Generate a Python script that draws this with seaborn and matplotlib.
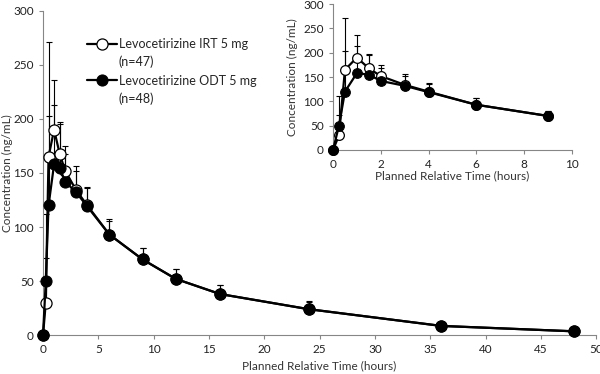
import numpy as np
import pandas as pd
import matplotlib
matplotlib.use("Agg")
import matplotlib.pyplot as plt
import seaborn as sns

sns.set_style("white")
plt.rcParams["font.family"] = ["Lato", "DejaVu Sans"]

# Tiempos y concentraciones medias (+ DE superior)
time_h = [0, 0.25, 0.5, 1, 1.5, 2, 3, 4, 6, 9, 12, 16, 24, 36, 48]
irt_mean = [0, 30, 165, 190, 168, 152, 134, 120, 93, 70, 52, 38, 24, 8.5, 3.5]
irt_sd = [0, 82, 106, 46, 29, 23, 22, 17, 14, 11, 9, 8, 8, 2, 1.5]
odt_mean = [0, 50, 120, 158, 155, 142, 132, 119, 93, 70, 52, 38, 24, 8.5, 3.5]
odt_sd = [0, 21, 83, 55, 40, 26, 20, 17, 13, 11, 9, 8, 7, 2, 1.5]

irt_label = "Levocetirizine IRT 5 mg"
odt_label = "Levocetirizine ODT 5 mg"
group_n = ["(n=47)", "(n=48)"]

df = pd.DataFrame({"time": time_h, "irt": irt_mean, "irt_sd": irt_sd,
                   "odt": odt_mean, "odt_sd": odt_sd})

grey = "#868686"


def draw(ax, data, ms, legend):
    # barras de error (solo hacia arriba)
    for col, sdcol in [("irt", "irt_sd"), ("odt", "odt_sd")]:
        ax.errorbar(data["time"], data[col], yerr=[np.zeros(len(data)), data[sdcol]],
                    fmt="none", ecolor="black", elinewidth=0.8, capsize=2.5,
                    capthick=0.8, zorder=2)
    sns.lineplot(data=data, x="time", y="irt", ax=ax, color="black", lw=1.6,
                 marker="o", markersize=ms, markerfacecolor="white",
                 markeredgecolor="black", markeredgewidth=0.9,
                 label=irt_label if legend else None, zorder=3, clip_on=False)
    sns.lineplot(data=data, x="time", y="odt", ax=ax, color="black", lw=1.6,
                 marker="o", markersize=ms, markerfacecolor="black",
                 markeredgecolor="black",
                 label=odt_label if legend else None, zorder=4, clip_on=False)
    ax.set_ylim(0, 300)
    ax.set_yticks(range(0, 301, 50))
    ax.set_ylabel("Concentration (ng/mL)", fontsize=8.5, color="#333333")
    ax.set_xlabel("Planned Relative Time (hours)", fontsize=8.5, color="#333333")
    for s in ["top", "right"]:
        ax.spines[s].set_visible(False)
    for s in ["left", "bottom"]:
        ax.spines[s].set_color(grey)
        ax.spines[s].set_linewidth(0.8)
    ax.tick_params(direction="out", length=3, width=0.8, color=grey,
                   labelsize=8.5, labelcolor="#222222", left=True, bottom=True)
    ax.set_facecolor("none")


fig = plt.figure(figsize=(6, 3.74), dpi=100)

ax = fig.add_axes([0.0717, 0.104, 0.922, 0.867])
draw(ax, df, 8, True)
ax.set_xlim(0, 50)
ax.set_xticks(range(0, 51, 5))
ax.yaxis.set_label_coords(-0.055, 0.5)
leg = ax.legend(loc="upper left", bbox_to_anchor=(0.06, 0.95), frameon=False,
                fontsize=9, handlelength=2.4, handletextpad=0.1,
                labelspacing=1.95)

# segunda línea de cada entrada de la leyenda: tamaño del grupo
fig.canvas.draw()
for t, n in zip(leg.get_texts(), group_n):
    bb = t.get_window_extent()
    fig.text(bb.x0 / fig.bbox.width, (bb.y0 - 16) / fig.bbox.height, n,
             fontsize=9, color="#222222")

ins = fig.add_axes([0.555, 0.599, 0.398, 0.39])
draw(ins, df[df["time"] <= 9], 7, False)
ins.set_xlim(0, 10)
ins.set_xticks(range(0, 11, 2))
ins.xaxis.labelpad = 0

fig.savefig("out.png", dpi=100)
